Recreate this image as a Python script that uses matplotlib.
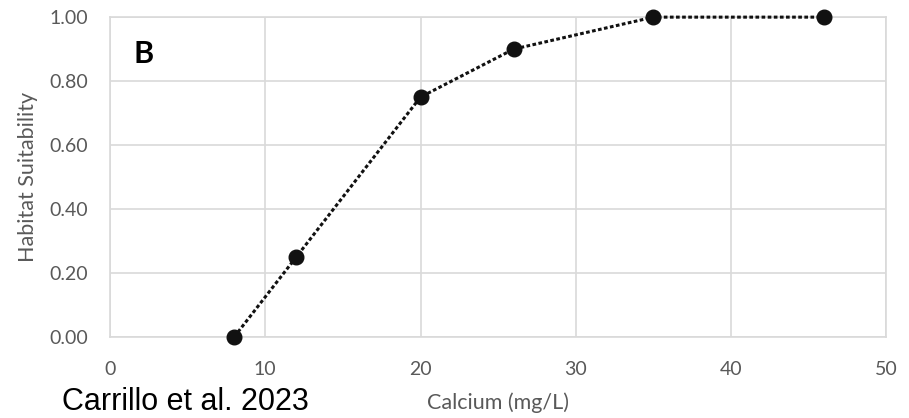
import matplotlib.pyplot as plt

# Habitat suitability curve for calcium
calcium = [8, 12, 20, 26, 35, 46]
suitability = [0.00, 0.25, 0.75, 0.90, 1.00, 1.00]

x_ticks = [0, 10, 20, 30, 40, 50]
y_ticks = [0.0, 0.2, 0.4, 0.6, 0.8, 1.0]

plt.rcParams['font.family'] = ['Lato', 'DejaVu Sans']

fig = plt.figure(figsize=(9.09, 4.18), dpi=100)
ax = fig.add_axes([0.121, 0.194, 0.854, 0.765])

ax.plot(calcium, suitability, color='#111111', linestyle=(0, (1.2, 0.8)), linewidth=2.2,
        marker='o', markersize=10.5, clip_on=False, zorder=3)

ax.set_xlim(0, 50)
ax.set_ylim(0, 1)
ax.set_xticks(x_ticks)
ax.set_yticks(y_ticks)
ax.set_yticklabels([f"{v:.2f}" for v in y_ticks])
ax.grid(True, color='#d9d9d9', linewidth=1.2)
ax.set_axisbelow(True)
for side in ax.spines.values():
    side.set_color('#d9d9d9')
    side.set_linewidth(1.2)
ax.tick_params(length=0, colors='#595959', labelsize=14)
ax.tick_params(axis='x', pad=17)
ax.tick_params(axis='y', pad=16)

ax.set_xlabel('Calcium (mg/L)', color='#595959', fontsize=15.5, labelpad=11)
ax.set_ylabel('Habitat Suitability', color='#595959', fontsize=15.5, labelpad=8)

ax.text(0.03, 0.93, 'B', transform=ax.transAxes, fontsize=22, fontweight='bold',
        va='top', ha='left', color='black')

# citation sits in the bottom-left corner, below the tick labels
fig.text(62 / 909, 1 / 418, 'Carrillo et al. 2023', fontsize=22,
         family=['Liberation Sans', 'DejaVu Sans'], va='bottom', ha='left', color='black')

plt.savefig('out.png', dpi=100)
